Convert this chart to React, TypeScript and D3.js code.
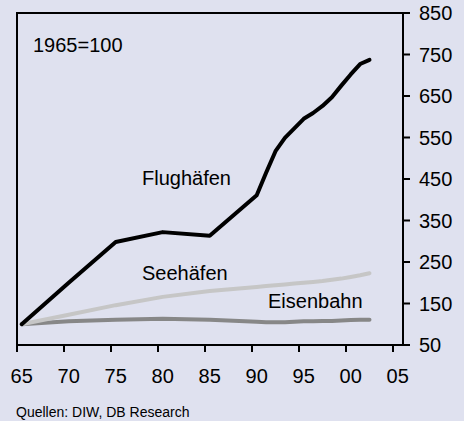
import React from "react";
import * as d3 from "d3";

const years = [1965, 1970, 1975, 1980, 1985, 1990, 1991, 1992, 1993, 1994, 1995, 1996, 1997, 1998, 1999, 2000, 2001, 2002];
const flughaefen = [100, 200, 298, 322, 313, 411, 465, 517, 549, 572, 595, 609, 626, 647, 675, 702, 727, 737];
const seehaefen = [100, 123, 146, 166, 180, 190, 192, 194, 196, 198, 200, 202, 204, 207, 210, 214, 218, 223];
const eisenbahn = [100, 107, 111, 113, 111, 106, 105, 105, 105, 106, 107, 107, 108, 108, 109, 110, 111, 111];

const xTickYears = [1965, 1970, 1975, 1980, 1985, 1990, 1995, 2000, 2005];
const xTickLabels = ["65", "70", "75", "80", "85", "90", "95", "00", "05"];
const yTicks = [50, 150, 250, 350, 450, 550, 650, 750, 850];

const W = 464;
const H = 421;
const FONT = "'Liberation Sans', Arial, sans-serif";

export default function App() {
  const left = 17;
  const right = 403;
  const top = 13;
  const bottom = 345;
  const x = d3.scaleLinear().domain([1965, 2005]).range([17, 393]);
  const y = d3.scaleLinear().domain([50, 850]).range([bottom, top]);
  const half = 0.5; // category midpoint offset

  const mk = (vals: number[]) =>
    d3
      .line<number>()
      .x((_, i) => x(years[i] + half))
      .y((v) => y(v))(vals) || "";

  const series = [
    { name: "Eisenbahn", vals: eisenbahn, color: "#878787" },
    { name: "Seehäfen", vals: seehaefen, color: "#C6C6C6" },
    { name: "Flughäfen", vals: flughaefen, color: "#000000" },
  ];

  return (
    <div style={{ position: "absolute", left: 0, top: 0 }}>
      <svg width={W} height={H} style={{ display: "block" }} fontFamily={FONT}>
        <rect x={0} y={0} width={W} height={H} fill="#DFE1EF" />
        {series.map((s) => (
          <path
            key={s.name}
            d={mk(s.vals)}
            fill="none"
            stroke={s.color}
            strokeWidth={4}
            strokeLinejoin="round"
            strokeLinecap="round"
          />
        ))}
        {/* frame */}
        <line x1={left} x2={right} y1={top} y2={top} stroke="#000" strokeWidth={2} />
        <line x1={left} x2={left} y1={top - 1} y2={bottom + 1} stroke="#000" strokeWidth={2} />
        <line x1={right} x2={right} y1={top - 1} y2={bottom + 1} stroke="#000" strokeWidth={2} />
        <line x1={left - 1} x2={right + 1} y1={bottom} y2={bottom} stroke="#000" strokeWidth={2} />
        {/* x ticks */}
        {xTickYears.map((t, i) => (
          <g key={t}>
            <line x1={x(t)} x2={x(t)} y1={bottom} y2={bottom + 7} stroke="#000" strokeWidth={2} />
            <text x={x(t + half)} y={383} textAnchor="middle" fontSize={20} fill="#000">
              {xTickLabels[i]}
            </text>
          </g>
        ))}
        {/* y ticks */}
        {yTicks.map((t) => (
          <g key={t}>
            <line x1={right} x2={right + 7} y1={y(t)} y2={y(t)} stroke="#000" strokeWidth={2} />
            <text x={419} y={y(t) + 7} textAnchor="start" fontSize={20} fill="#000">
              {t}
            </text>
          </g>
        ))}
        <text x={33} y={52} fontSize={20} fill="#000">1965=100</text>
        <text x={142} y={185} fontSize={20} fill="#000">Flughäfen</text>
        <text x={142} y={280} fontSize={20} fill="#000">Seehäfen</text>
        <text x={268} y={308} fontSize={20} fill="#000">Eisenbahn</text>
        <text x={16} y={417} fontSize={14} fill="#000">Quellen: DIW, DB Research</text>
      </svg>
    </div>
  );
}
